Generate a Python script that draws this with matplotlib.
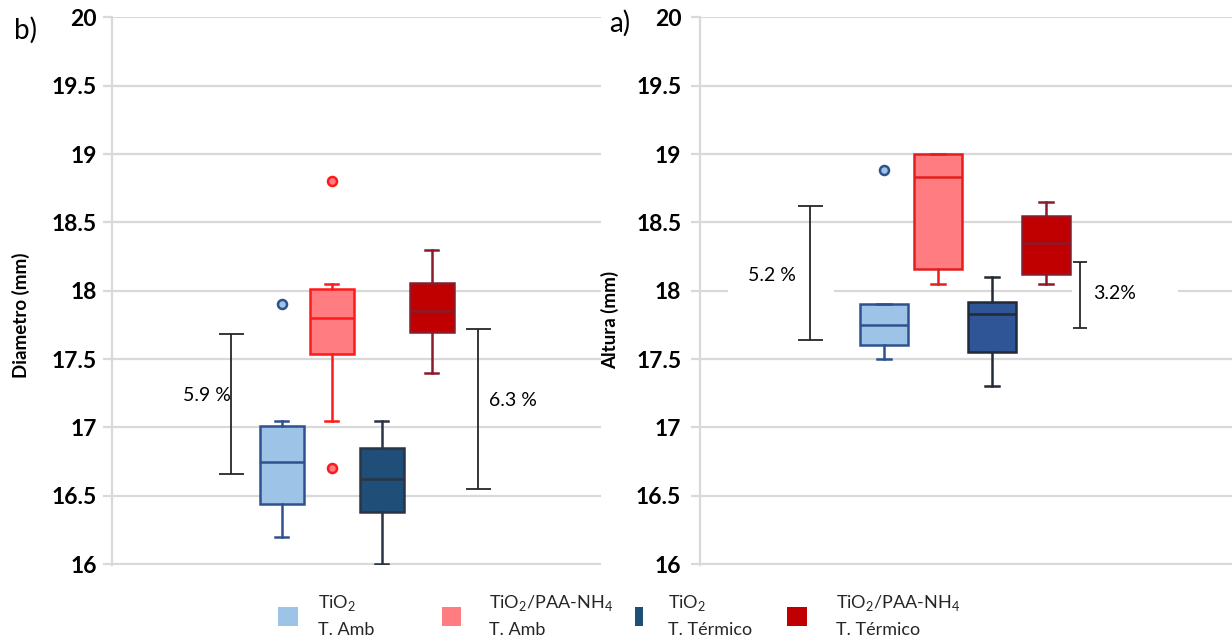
import matplotlib
matplotlib.use("Agg")
import matplotlib.pyplot as plt
from matplotlib.patches import Rectangle
from matplotlib.ticker import FuncFormatter

plt.rcParams['font.family'] = ['Lato', 'DejaVu Sans']
plt.rcParams['mathtext.fontset'] = 'custom'
plt.rcParams['mathtext.rm'] = 'Lato'

# ---------------- data ----------------
legend_line1 = ["TiO$_\\mathregular{2}$",
                "TiO$_\\mathregular{2}$/PAA-NH$_\\mathregular{4}$",
                "TiO$_\\mathregular{2}$",
                "TiO$_\\mathregular{2}$/PAA-NH$_\\mathregular{4}$"]
legend_line2 = ["T. Amb", "T. Amb", "T. Térmico", "T. Térmico"]

# Diametro (mm)
diam_lo = [16.20, 17.05, 16.00, 17.40]
diam_q1 = [16.44, 17.54, 16.38, 17.70]
diam_med = [16.75, 17.80, 16.62, 17.85]
diam_q3 = [17.01, 18.01, 16.85, 18.06]
diam_hi = [17.05, 18.05, 17.05, 18.30]
diam_out = [[17.90], [18.80, 16.70], [], []]

# Altura (mm)
alt_lo = [17.50, 18.05, 17.30, 18.05]
alt_q1 = [17.60, 18.16, 17.55, 18.12]
alt_med = [17.75, 18.83, 17.83, 18.35]
alt_q3 = [17.90, 19.00, 17.92, 18.55]
alt_hi = [17.90, 19.00, 18.10, 18.65]
alt_out = [[18.88], [], [], []]

# variation ranges (top, bottom, label)
diam_ranges_top = [17.68, 17.72]
diam_ranges_bot = [16.66, 16.55]
diam_ranges_lbl = ["5.9 %", "6.3 %"]
alt_ranges_top = [18.62, 18.21]
alt_ranges_bot = [17.64, 17.73]
alt_ranges_lbl = ["5.2 %", "3.2%"]

y_ticks = [16, 16.5, 17, 17.5, 18, 18.5, 19, 19.5, 20]

# ---------------- styles ----------------
legend_colors = ['#9DC3E6', '#FF7C80', '#1F4E79', '#C00000']
diam_fill = ['#9DC3E6', '#FF7C80', '#1F4E79', '#C00000']
diam_edge = ['#2F528F', '#FF1A1A', '#2A3444', '#8B1A2B']
alt_fill = ['#9DC3E6', '#FF7C80', '#2F5597', '#C00000']
alt_edge = ['#2F528F', '#E41E1E', '#222A35', '#8B1A2B']
grid_c = '#D9D9D9'
W, H = 1232, 640

fig = plt.figure(figsize=(W / 100, H / 100), dpi=100)
fig.patch.set_facecolor('white')

positions = [-1.5, -0.5, 0.5, 1.5]


def make_axes(left_px, right_px, xlim, pad):
    ax = fig.add_axes([left_px / W, 1 - 564.5 / H, (right_px - left_px) / W, 547.5 / H])
    ax.set_xlim(*xlim)
    ax.set_ylim(15.997, 20.003)
    ax.set_yticks(y_ticks)
    ax.yaxis.set_major_formatter(FuncFormatter(lambda v, p: f"{v:g}"))
    ax.set_xticks([])
    for s in ['top', 'right', 'bottom']:
        ax.spines[s].set_visible(False)
    ax.spines['left'].set_color(grid_c)
    ax.spines['left'].set_linewidth(1.6)
    ax.grid(axis='y', color=grid_c, linewidth=1.6, zorder=0)
    ax.set_axisbelow(True)
    ax.tick_params(axis='y', length=6.5, width=1.6, color=grid_c,
                   labelsize=16.5, pad=pad, labelcolor='black')
    for lab in ax.get_yticklabels():
        lab.set_fontweight('bold')
    return ax


def draw_boxes(ax, lo, q1, med, q3, hi, outs, fills, edges, width):
    for i in range(len(lo)):
        stats = [dict(whislo=lo[i], q1=q1[i], med=med[i], q3=q3[i],
                      whishi=hi[i], fliers=outs[i])]
        ax.bxp(stats, positions=[positions[i]], widths=width, capwidths=0.26,
               patch_artist=True, showfliers=True,
               boxprops=dict(facecolor=fills[i], edgecolor=edges[i], linewidth=1.8),
               medianprops=dict(color=edges[i], linewidth=1.8),
               whiskerprops=dict(color=edges[i], linewidth=1.8),
               capprops=dict(color=edges[i], linewidth=1.8),
               flierprops=dict(marker='o', markerfacecolor=fills[i],
                               markeredgecolor=edges[i], markersize=6.5,
                               markeredgewidth=1.8),
               manage_ticks=False, zorder=3)


def draw_range(ax, x, top, bot, capsize):
    mid = (top + bot) / 2
    ax.errorbar([x], [mid], yerr=[[mid - bot], [top - mid]], fmt='none',
                ecolor='#262626', elinewidth=1.3, capsize=capsize,
                capthick=1.3, zorder=4)


# ---- Diametro panel ----
ax1 = make_axes(112, 601, (-4.89, 4.89), 4.5)
draw_boxes(ax1, diam_lo, diam_q1, diam_med, diam_q3, diam_hi, diam_out,
           diam_fill, diam_edge, 0.88)
range_x1 = [-2.52, 2.42]
text_xy1 = [(-2.99, 17.23), (3.12, 17.20)]
for i in range(2):
    draw_range(ax1, range_x1[i], diam_ranges_top[i], diam_ranges_bot[i], 9)
    ax1.text(*text_xy1[i], diam_ranges_lbl[i], ha='center', va='center',
             fontsize=14, color='black', zorder=5)
ax1.set_ylabel("Diametro (mm)", fontsize=13.5, fontweight='bold')
ax1.yaxis.set_label_coords((30 - 112) / 489, (564 - 315) / 547)

# ---- Altura panel ----
ax2 = make_axes(700, 1232, (-4.91, 4.94), 7)
draw_boxes(ax2, alt_lo, alt_q1, alt_med, alt_q3, alt_hi, alt_out,
           alt_fill, alt_edge, 0.89)
# white label boxes behind the percentages
ax2.add_patch(Rectangle((-4.39, 17.95), 1.96, 0.32, facecolor='white',
                        edgecolor='none', zorder=1.5))
ax2.add_patch(Rectangle((1.98, 17.84), 1.96, 0.28, facecolor='white',
                        edgecolor='none', zorder=1.5))
range_x2 = [-2.87, 2.12]
caps2 = [9, 5]
text_xy2 = [(-3.57, 18.11), (2.76, 17.98)]
for i in range(2):
    draw_range(ax2, range_x2[i], alt_ranges_top[i], alt_ranges_bot[i], caps2[i])
    ax2.text(*text_xy2[i], alt_ranges_lbl[i], ha='center', va='center',
             fontsize=14, color='black', zorder=5)
ax2.set_ylabel("Altura (mm)", fontsize=13.5, fontweight='bold')
ax2.yaxis.set_label_coords((619 - 700) / 532, (565 - 320) / 548)

# ---- panel letters ----
fig.text(14 / W, 1 - 30 / H, "b)", fontsize=20, ha='left', va='center')
fig.text(609 / W, 1 - 23 / H, "a)", fontsize=20, ha='left', va='center')

# ---- legend ----
swatch_x = [278, 442, 635, 787]
swatch_w = [20, 19, 8, 20]
text_x = [318, 489, 668, 836]
for i in range(4):
    fig.add_artist(Rectangle((swatch_x[i] / W, 1 - 626 / H), swatch_w[i] / W, 19 / H,
                             transform=fig.transFigure, facecolor=legend_colors[i],
                             edgecolor='none'))
    fig.text(text_x[i] / W, 1 - 603 / H, legend_line1[i], fontsize=13,
             ha='left', va='center', color='#262626')
    fig.text(text_x[i] / W, 1 - 630 / H, legend_line2[i], fontsize=13,
             ha='left', va='center', color='#262626')

fig.savefig("out.png", dpi=100, facecolor='white')
